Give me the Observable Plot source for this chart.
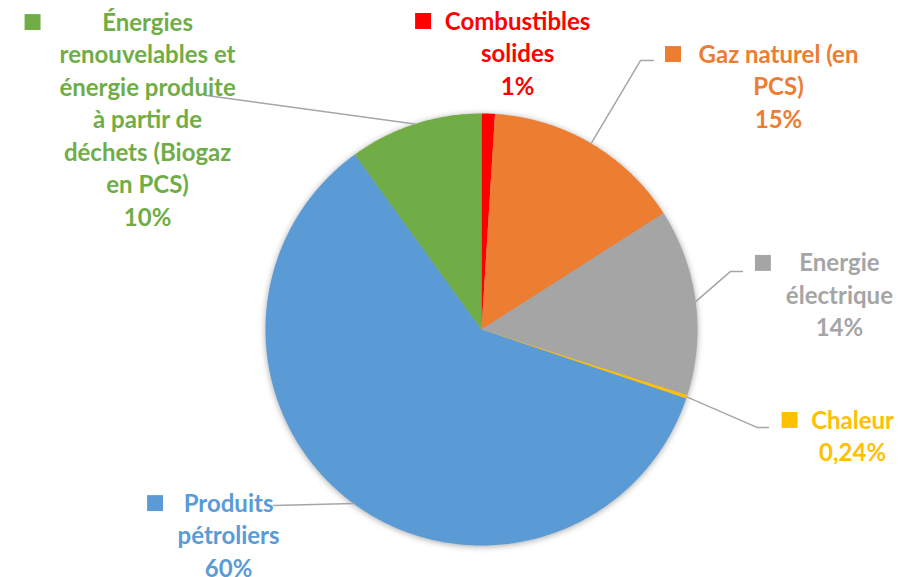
<!DOCTYPE html>
<html>
<head>
<meta charset="utf-8">
<script src="https://cdn.jsdelivr.net/npm/d3@7"></script>
<script src="https://cdn.jsdelivr.net/npm/@observablehq/plot@0.6"></script>
<style>
  html, body { margin: 0; padding: 0; background: #fff; }
  #chart { width: 916px; height: 577px; }
</style>
</head>
<body>
<div id="chart"></div>
<script>
// ---- Data ----
const categories = [
  "Combustibles solides",
  "Gaz naturel (en PCS)",
  "Energie électrique",
  "Chaleur",
  "Produits pétroliers",
  "Énergies renouvelables et énergie produite à partir de déchets (Biogaz en PCS)"
];
const shares = [1, 15, 14, 0.24, 60, 10];
const pctLabels = ["1%", "15%", "14%", "0,24%", "60%", "10%"];
const labelLines = [
  "Combustibles\nsolides",
  "Gaz naturel (en\nPCS)",
  "Energie\nélectrique",
  "Chaleur",
  "Produits\npétroliers",
  "Énergies\nrenouvelables et\nénergie produite\nà partir de\ndéchets (Biogaz\nen PCS)"
];
const colors = ["#FF0000", "#ED7D31", "#A5A5A5", "#FFC000", "#5B9BD5", "#70AD47"];

// ---- Layout (in pie-radius units / px offsets) ----
const labelAnchor = [[0.167, 1.463], [1.375, 1.310], [1.657, 0.343], [1.718, -0.384], [-1.171, -0.769], [-1.546, 1.458]];
const squareDx = [-94.5, -105.5, -76.5, -63, -73.5, -115];
const leaderPts = [
  null,
  [[0.736, 1.245], [0.796, 1.245]],
  [[1.153, 0.269], [1.208, 0.269]],
  [[1.278, -0.454], [1.329, -0.454]],
  [[-0.963, -0.815]],
  [[-1.273, 1.083]]
];

// ---- Build slices from values ----
const total = d3.sum(shares);
const slicePts = [];
const mids = [];
let acc = 0;
categories.forEach((c, i) => {
  const a0 = acc / total * 2 * Math.PI;
  acc += shares[i];
  const a1 = acc / total * 2 * Math.PI;
  mids.push((a0 + a1) / 2);
  slicePts.push({cat: c, x: 0, y: 0});
  const n = Math.max(2, Math.ceil((a1 - a0) / (Math.PI / 360)));
  for (let k = 0; k <= n; k++) {
    const a = a0 + (a1 - a0) * k / n;
    slicePts.push({cat: c, x: Math.sin(a), y: Math.cos(a)});
  }
  slicePts.push({cat: c, x: 0, y: 0});
});

const leaders = [];
categories.forEach((c, i) => {
  if (!leaderPts[i]) return;
  leaders.push({cat: c, x: Math.sin(mids[i]), y: Math.cos(mids[i])});
  leaderPts[i].forEach(p => leaders.push({cat: c, x: p[0], y: p[1]}));
});

const labels = categories.map((c, i) => ({
  cat: c,
  x: labelAnchor[i][0],
  y: labelAnchor[i][1],
  text: labelLines[i] + "\n" + pctLabels[i],
  sqDx: squareDx[i]
}));

const chart = Plot.plot({
  width: 916,
  height: 577,
  margin: 0,
  x: {domain: [-1, 1], range: [265, 697], axis: null},
  y: {domain: [-1, 1], range: [545, 113], axis: null},
  color: {domain: categories, range: colors},
  style: {background: "#fff", fontFamily: "Lato, 'Open Sans', sans-serif"},
  marks: [
    Plot.line(slicePts, {x: "x", y: "y", z: "cat", fill: "cat", stroke: "none", curve: "linear"}),
    Plot.line(leaders, {x: "x", y: "y", z: "cat", stroke: "#A6A6A6", strokeWidth: 1.5, curve: "linear"}),
    Plot.text(labels, {
      x: "x", y: "y", text: "text", fill: "cat",
      fontSize: 24, fontWeight: "bold", lineAnchor: "top", lineHeight: 1.354,
      textAnchor: "middle", fontFamily: "Lato", dy: -7
    }),
    ...labels.map(l => Plot.dot([l], {
      x: "x", y: "y", fill: "cat", symbol: "square", r: 9, stroke: "none",
      dx: l.sqDx, dy: 7.5
    }))
  ]
});

const g = chart.querySelectorAll('g[aria-label="line"]')[0];
if (g) g.style.filter = "drop-shadow(0px 1px 3px rgba(0,0,0,0.35))";
document.getElementById("chart").appendChild(chart);
</script>
</body>
</html>
